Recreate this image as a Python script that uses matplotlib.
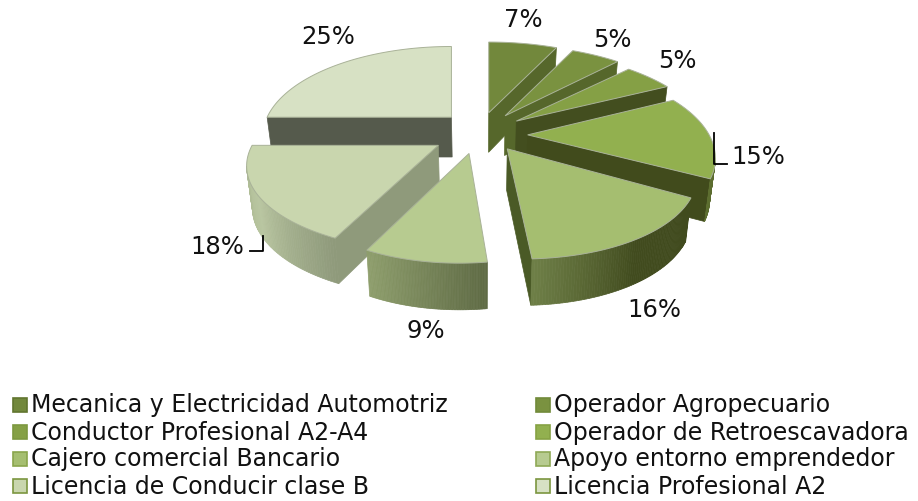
import numpy as np
import matplotlib
matplotlib.use('Agg')
import matplotlib.pyplot as plt
from matplotlib.colors import LinearSegmentedColormap
from matplotlib.patches import Polygon, Rectangle

# Data, clockwise from the top
labels = ['Mecanica y Electricidad Automotriz', 'Operador Agropecuario',
          'Conductor Profesional A2-A4', 'Operador de Retroescavadora',
          'Cajero comercial Bancario', 'Apoyo entorno emprendedor',
          'Licencia de Conducir clase B', 'Licencia Profesional A2']
values = [7, 5, 5, 15, 16, 9, 18, 25]
pct_pos = [(523, 20), (612, 40), (677, 61), (758, 157),
           (654, 310), (426, 331), (217, 247), (328, 37)]

top_colors = ['#72883c', '#7a9240', '#85a045', '#92b04f',
              '#a5be70', '#b7cb90', '#c9d6ae', '#d7e1c4']
side_colors = ['#56672b', '#56672b', '#434e1f', '#414b1c',
               '#4a5a26', '#5f6b45', '#8f9a7b', '#555a4c']
arc_colors = [['#56672b'] * 2, ['#56672b'] * 2, ['#434e1f'] * 2,
              ['#4d5a25', '#5d6e30'],
              ['#414b1e', '#414b1e', '#6e7f47'],
              ['#5f6b45', '#8e9e6c'],
              ['#8f9a7b', '#b9c6a1', '#aab78f'],
              ['#555a4c'] * 2]
swatch_edge = ['#61752f', '#718a3a', '#7d983f', '#86a244',
               '#8aa54b', '#8fa956', '#7b963f', '#7b963f']

# Shape of the projected pie, in pixels
cx, cy = 481, 133.5
rx, ry = 190, 86
persp = 0.216
explode = 0.235
depth = 40.5

# per slice corrections for the odd perspective of the original
nudge = [(-2, 0), (-1, 0), (0, 1), (2, 3), (0, 0), (-5, 1), (-5, 2), (2, -1)]
scale_x = [1, 1, 1, 0.965, 0.98, 0.93, 0.98, 0.97]
scale_y = [1, 1, 1, 1, 1, 1, 0.96, 1]
shear_x = [0, 0, 0, 0, -0.045, -0.09, -0.05, 0]
shear_y = [0, 0, 0.02, 0.02, 0.047, 0, 0, 0]


def project(i, x0, y0, theta):
    X, Y = np.sin(theta), -np.cos(theta)
    s = 1 / (1 - persp * Y)
    dx = rx * X * s * scale_x[i]
    dy = ry * Y * s * scale_y[i]
    return x0 + dx + shear_x[i] * dy, y0 + dy + shear_y[i] * dx


def wall(ax, p, q, color):
    # quad hanging under the top edge p-q, taller toward the viewer, leaning in
    dp = depth * (1 + 0.1 * (p[1] - cy) / ry)
    dq = depth * (1 + 0.1 * (q[1] - cy) / ry)
    px = p[0] - 0.025 * (p[0] - cx)
    qx = q[0] - 0.025 * (q[0] - cx)
    ax.add_patch(Polygon([p, q, (qx, q[1] + dq), (px, p[1] + dp)],
                         fc=color, ec=color, lw=0.5))


def draw_slice(ax, i, start, end):
    mid = (start + end) / 2
    x0 = cx + explode * rx * np.sin(mid) + nudge[i][0]
    y0 = cy - explode * ry * np.cos(mid) + nudge[i][1]
    th = np.linspace(start, end, 80)
    ax_, ay_ = project(i, x0, y0, th)
    arc = list(zip(ax_, ay_))
    tip = (x0, y0)
    cmap = LinearSegmentedColormap.from_list('arc', arc_colors[i])

    # only edges running leftwards face the viewer
    if arc[0][0] < tip[0]:
        wall(ax, tip, arc[0], side_colors[i])
    if tip[0] < arc[-1][0]:
        wall(ax, arc[-1], tip, side_colors[i])
    for j in range(len(arc) - 1):
        if arc[j + 1][0] < arc[j][0]:
            wall(ax, arc[j], arc[j + 1], cmap(j / (len(arc) - 2)))
    ax.add_patch(Polygon([tip] + arc, fc=top_colors[i], ec='#a9b298', lw=0.7))


fig = plt.figure(figsize=(9.18, 5.02), dpi=100)
ax = fig.add_axes([0, 0, 1, 1])
ax.set_xlim(0, 918)
ax.set_ylim(502, 0)
ax.axis('off')

total = sum(values)
edges = 2 * np.pi * np.concatenate([[0], np.cumsum(values)]) / total

# back slices first
for i in [7, 0, 1, 2, 3, 4, 6, 5]:
    draw_slice(ax, i, edges[i], edges[i + 1])

for v, (x, y) in zip(values, pct_pos):
    ax.text(x, y, f'{v}%', fontsize=17.5, ha='center', va='center', color='#111111')

# leader lines
ax.plot([714, 714, 727], [134, 165, 165], color='black', lw=1.3)
ax.plot([263, 263, 250], [237, 252, 252], color='black', lw=1.3)

# legend, filled row by row
rows = [405.5, 433, 459.5, 487]
for i, name in enumerate(labels):
    y = rows[i // 2]
    sx, tx = (12, 31) if i % 2 == 0 else (535, 554)
    ax.add_patch(Rectangle((sx + 0.5, y - 7), 14, 14, fc=top_colors[i],
                           ec=swatch_edge[i], lw=1.2))
    ax.text(tx, y, name, fontsize=17, ha='left', va='center', color='#111111')

fig.savefig('out.png', dpi=100)
